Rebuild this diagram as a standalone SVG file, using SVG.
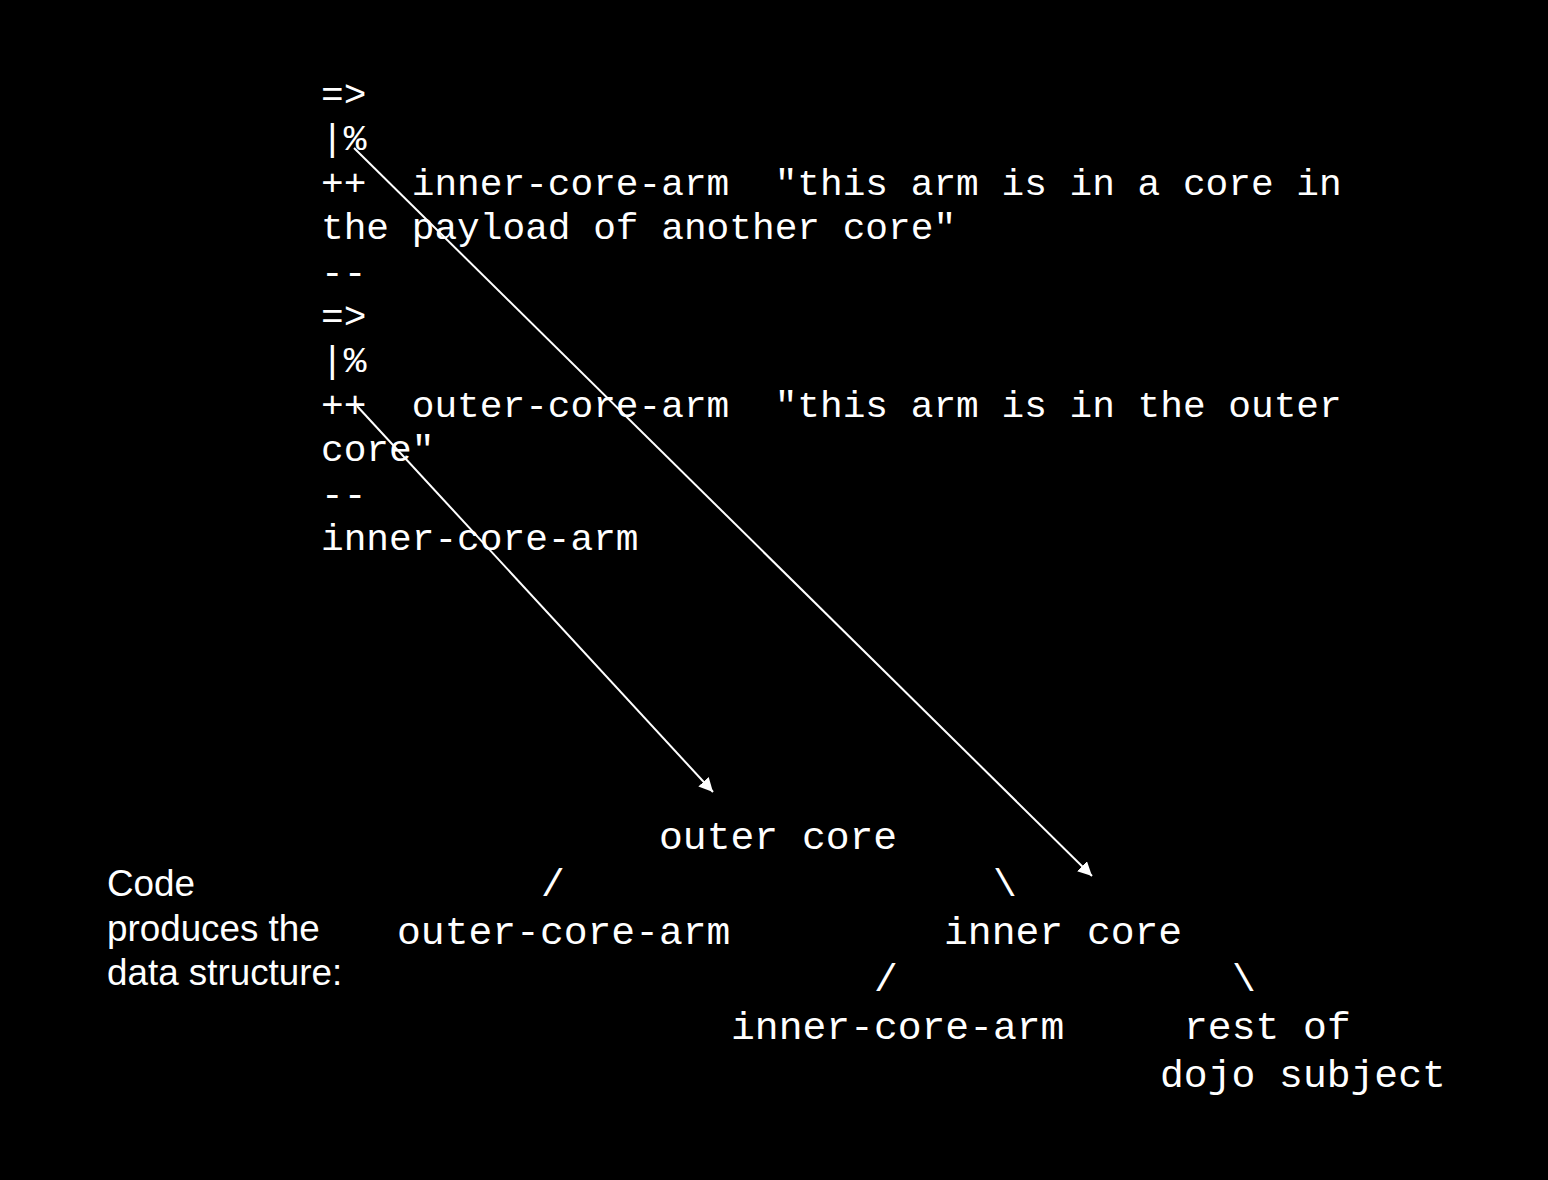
<svg xmlns="http://www.w3.org/2000/svg" width="1548" height="1180" viewBox="0 0 1548 1180">
<style>
.code{font-family:"Liberation Mono","Courier New",monospace;font-size:37.8px;fill:#fff;white-space:pre}
.tree{font-family:"Liberation Mono","Courier New",monospace;font-size:39.7px;fill:#fff;white-space:pre}
.label{font-family:"Liberation Sans",Arial,sans-serif;font-size:36.8px;fill:#fff}
.conn{stroke:#fff;stroke-width:2;fill:none}
</style>
<defs>
<marker id="ah" viewBox="0 0 10 10" refX="10" refY="5" markerWidth="7" markerHeight="7" markerUnits="strokeWidth" orient="auto">
<path d="M0,0 L10,5 L0,10 z" fill="#fff"/>
</marker>
</defs>
<rect width="1548" height="1180" fill="#000"/>
<g id="code">
<text class="code" x="321" y="106">=&gt;</text>
<text class="code" x="321" y="150">|%</text>
<text class="code" x="321" y="195">++  inner-core-arm  "this arm is in a core in</text>
<text class="code" x="321" y="239">the payload of another core"</text>
<text class="code" x="321" y="284">--</text>
<text class="code" x="321" y="328">=&gt;</text>
<text class="code" x="321" y="372">|%</text>
<text class="code" x="321" y="417">++  outer-core-arm  "this arm is in the outer</text>
<text class="code" x="321" y="461">core"</text>
<text class="code" x="321" y="506">--</text>
<text class="code" x="321" y="550">inner-core-arm</text>
</g>
<g id="caption">
<text class="label" x="107" y="896">Code</text>
<text class="label" x="107" y="941">produces the</text>
<text class="label" x="107" y="985">data structure:</text>
</g>
<g id="outer-core"><text class="tree" x="659" y="849">outer core</text></g>
<g id="slash1"><text class="tree" x="541" y="896">/</text></g>
<g id="bslash1"><text class="tree" x="993" y="896">\</text></g>
<g id="outer-core-arm"><text class="tree" x="397" y="944">outer-core-arm</text></g>
<g id="inner-core"><text class="tree" x="944" y="944">inner core</text></g>
<g id="slash2"><text class="tree" x="874" y="991">/</text></g>
<g id="bslash2"><text class="tree" x="1232" y="991">\</text></g>
<g id="inner-core-arm"><text class="tree" x="731" y="1039">inner-core-arm</text></g>
<g id="rest"><text class="tree" x="1184" y="1039">rest of</text><text class="tree" x="1160" y="1087">dojo subject</text></g>
<g id="connectors">
<line class="conn" x1="354" y1="148" x2="1092" y2="876" marker-end="url(#ah)"/>
<line class="conn" x1="357" y1="406" x2="713" y2="792" marker-end="url(#ah)"/>
</g>
</svg>
